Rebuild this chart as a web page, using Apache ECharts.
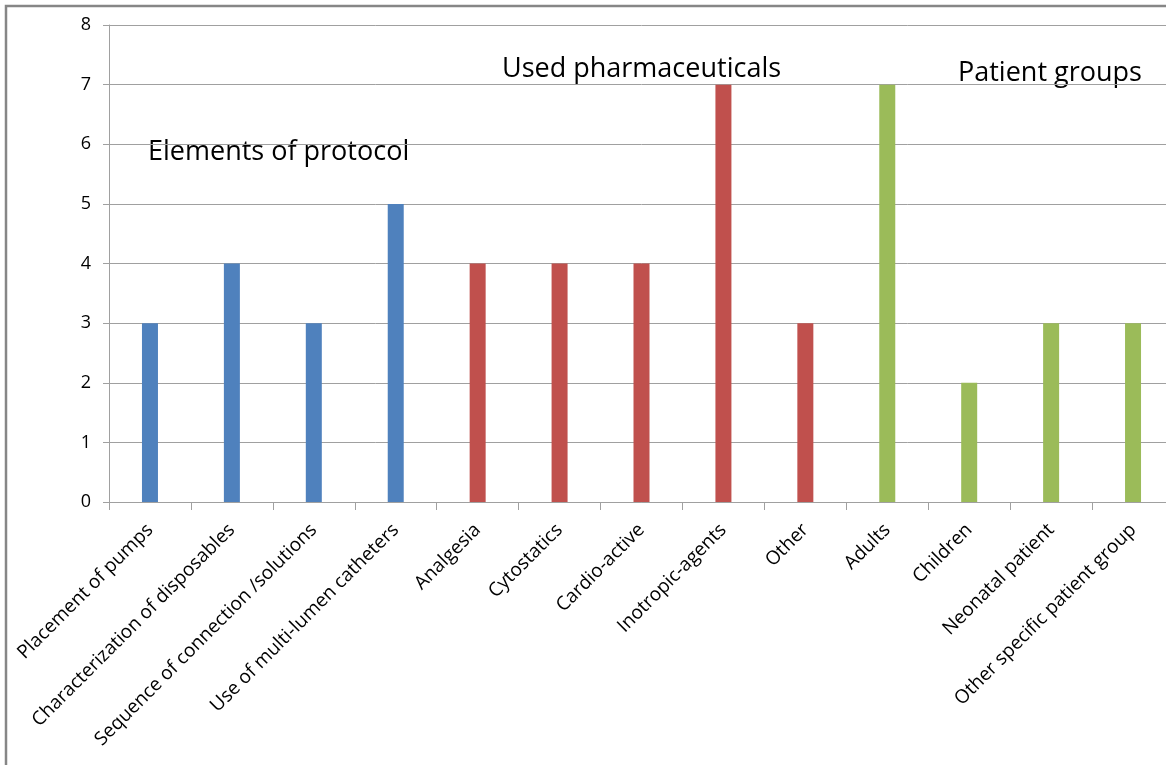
<!DOCTYPE html>
<html>
<head>
<meta charset="utf-8">
<script src="https://cdn.jsdelivr.net/npm/echarts@6/dist/echarts.min.js"></script>
<style>
  html, body { margin: 0; padding: 0; background: #fff; overflow: hidden; }
  #chart { width: 1190px; height: 765px; }
</style>
</head>
<body>
<div id="chart"></div>
<script>
// Category labels along the x axis
const categories = [
  'Placement of pumps',
  'Characterization of disposables',
  'Sequence of connection /solutions',
  'Use of multi-lumen catheters',
  'Analgesia',
  'Cytostatics',
  'Cardio-active',
  'Inotropic-agents',
  'Other',
  'Adults',
  'Children',
  'Neonatal patient',
  'Other specific patient group'
];

// Counts per group, in category order
const protocolValues = [3, 4, 3, 5];
const pharmaValues = [4, 4, 4, 7, 3];
const patientValues = [7, 2, 3, 3];

// Group headings
const groupTitles = ['Elements of protocol', 'Used pharmaceuticals', 'Patient groups'];

// Y axis ticks
const yTicks = [0, 1, 2, 3, 4, 5, 6, 7, 8];

const groupColors = ['#4F81BD', '#C0504D', '#9BBB59'];
const FONT = '"Open Sans", "Noto Sans", sans-serif';

const barData = [];
[protocolValues, pharmaValues, patientValues].forEach((vals, g) => {
  vals.forEach(v => barData.push({ value: v, itemStyle: { color: groupColors[g] } }));
});

const chart = echarts.init(document.getElementById('chart'), null, { renderer: 'canvas' });

chart.setOption({
  animation: false,
  backgroundColor: '#fff',
  grid: { left: 109, top: 25, width: 1065, height: 477, containLabel: false },
  xAxis: {
    type: 'category',
    data: categories,
    boundaryGap: true,
    axisLine: { show: true, lineStyle: { color: '#a0a0a0', width: 1 } },
    axisTick: { show: true, length: 8, alignWithLabel: false, lineStyle: { color: '#a0a0a0' } },
    axisLabel: {
      interval: 0,
      rotate: 45,
      margin: 25,
      color: '#000',
      fontFamily: FONT,
      fontSize: 19
    },
    splitLine: { show: false }
  },
  yAxis: {
    type: 'value',
    min: yTicks[0],
    max: yTicks[yTicks.length - 1],
    interval: 1,
    axisLine: { show: true, lineStyle: { color: '#a0a0a0', width: 1 } },
    axisTick: { show: true, length: 6, lineStyle: { color: '#a0a0a0' } },
    axisLabel: { color: '#000', fontFamily: FONT, fontSize: 18, margin: 18 },
    splitLine: { show: true, lineStyle: { color: '#a0a0a0', width: 1 } }
  },
  series: [{
    type: 'bar',
    data: barData,
    barWidth: 16
  }],
  graphic: [
    {
      type: 'rect',
      silent: true,
      shape: { x: 6, y: 6, width: 1220, height: 800 },
      style: { fill: 'none', stroke: '#868686', lineWidth: 2.5 }
    },
    {
      type: 'text', left: 148, top: 139, silent: true,
      style: { text: groupTitles[0], fill: '#000', font: '27px ' + FONT }
    },
    {
      type: 'text', left: 502, top: 56, silent: true,
      style: { text: groupTitles[1], fill: '#000', font: '27px ' + FONT }
    },
    {
      type: 'text', left: 958, top: 60, silent: true,
      style: { text: groupTitles[2], fill: '#000', font: '27px ' + FONT }
    }
  ]
});
</script>
</body>
</html>
